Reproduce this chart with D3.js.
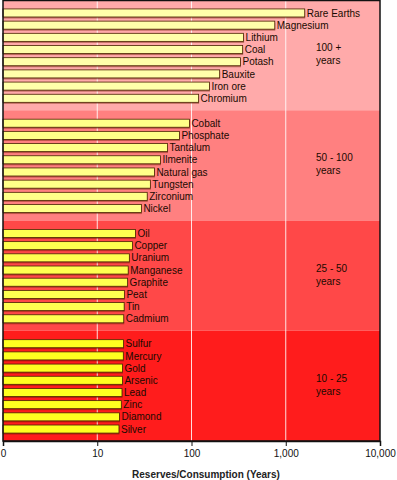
<!DOCTYPE html>
<html>
<head>
<meta charset="utf-8">
<script src="https://cdn.jsdelivr.net/npm/d3@7"></script>
<style>
  body { margin: 0; background: #fff; }
  text { font-family: "Liberation Sans", Arial, sans-serif; }
</style>
</head>
<body>
<div class="chart"></div>
<script>
// groups, top to bottom
const groups = ["100 +", "50 - 100", "25 - 50", "10 - 25"]

const names100 = ["Rare Earths", "Magnesium", "Lithium", "Coal", "Potash", "Bauxite", "Iron ore", "Chromium"]
const years100 = [1590, 765, 357, 349, 331, 199, 155, 119]

const names50 = ["Cobalt", "Phosphate", "Tantalum", "Ilmenite", "Natural gas", "Tungsten", "Zirconium", "Nickel"]
const years50 = [95, 74.5, 55.6, 46.8, 40.4, 36.6, 33.9, 29.4]

const names25 = ["Oil", "Copper", "Uranium", "Manganese", "Graphite", "Peat", "Tin", "Cadmium"]
const years25 = [25.4, 23.6, 21.9, 21.3, 21, 19.4, 19.3, 19.1]

const names10 = ["Sulfur", "Mercury", "Gold", "Arsenic", "Lead", "Zinc", "Diamond", "Silver"]
const years10 = [19, 18.9, 18.5, 18.5, 18.3, 18, 17.2, 17]

const tickValues = [1, 10, 100, 1000, 10000]
const tickLabels = ["0", "10", "100", "1,000", "10,000"]

const bandColors = ["#ffaaaa", "#ff8080", "#ff4848", "#ff1c1c"]
const barColors = ["#ffffaa", "#ffff88", "#ffff50", "#ffff20"]

const allNames = [names100, names50, names25, names10]
const allYears = [years100, years50, years25, years10]

const width = 397
const height = 480
const plotLeft = 3, plotRight = 380, plotTop = 0, plotBottom = 441

const svg = d3.select(".chart")
	.append("svg")
	.attr("width", width)
	.attr("height", height)

const xScale = d3.scaleLog()
	.domain([1, 10000])
	.range([plotLeft, plotRight])

const groupScale = d3.scaleBand()
	.domain(groups)
	.range([plotTop, plotBottom])

// group backgrounds
svg.selectAll("rect.band")
	.data(groups)
	.enter()
	.append("rect")
	.attr("class", "band")
	.attr("x", plotLeft)
	.attr("y", function(d){return groupScale(d)})
	.attr("width", plotRight - plotLeft)
	.attr("height", groupScale.bandwidth())
	.attr("fill", function(d, i){return bandColors[i]})

// white grid lines
svg.selectAll("line.grid")
	.data([10, 100, 1000])
	.enter()
	.append("line")
	.attr("x1", function(d){return xScale(d)})
	.attr("x2", function(d){return xScale(d)})
	.attr("y1", plotTop)
	.attr("y2", plotBottom)
	.attr("stroke", "#fff")
	.attr("stroke-opacity", 0.85)
	.attr("stroke-width", 1)

groups.forEach(function(grp, gi){
	const data = allNames[gi].map(function(n, i){return {name: n, years: allYears[gi][i]}})
	const y0 = groupScale(grp)
	const yScale = d3.scaleBand()
		.domain(allNames[gi])
		.range([y0 + 6.5, y0 + groupScale.bandwidth() - 5.5])
		.paddingInner(0.34)
		.paddingOuter(0.2)

	const g = svg.append("g")

	// shadow under bars
	g.selectAll("rect.shadow")
		.data(data)
		.enter()
		.append("rect")
		.attr("class", "shadow")
		.attr("x", plotLeft)
		.attr("y", function(d){return yScale(d.name) + 1.5})
		.attr("width", function(d){return xScale(d.years) - plotLeft + 0.5})
		.attr("height", yScale.bandwidth())
		.attr("fill", "#6a1a00")
		.attr("opacity", 0.45)

	g.selectAll("rect.bar")
		.data(data)
		.enter()
		.append("rect")
		.attr("class", "bar")
		.attr("x", plotLeft)
		.attr("y", function(d){return yScale(d.name)})
		.attr("width", function(d){return xScale(d.years) - plotLeft})
		.attr("height", yScale.bandwidth())
		.attr("fill", barColors[gi])
		.attr("stroke", "#4a2200")
		.attr("stroke-width", 0.8)

	g.selectAll("text.lbl")
		.data(data)
		.enter()
		.append("text")
		.attr("class", "lbl")
		.attr("x", function(d){return xScale(d.years) + 2})
		.attr("y", function(d){return yScale(d.name) + yScale.bandwidth() / 2})
		.attr("dy", "0.36em")
		.attr("font-size", "10px")
		.attr("fill", "#1a0a00")
		.text(function(d){return d.name})

	// group label
	g.append("text")
		.attr("x", 316)
		.attr("y", y0 + 51)
		.attr("font-size", "10px")
		.attr("fill", "#1a0a00")
		.text(grp)
	g.append("text")
		.attr("x", 316)
		.attr("y", y0 + 64)
		.attr("font-size", "10px")
		.attr("fill", "#1a0a00")
		.text("years")
})

// plot frame
svg.append("rect")
	.attr("x", plotLeft)
	.attr("y", plotTop + 0.5)
	.attr("width", plotRight - plotLeft)
	.attr("height", plotBottom - plotTop - 0.5)
	.attr("fill", "none")
	.attr("stroke", "#111")
	.attr("stroke-width", 1.5)

const xAxisCall = d3.axisBottom(xScale)
	.tickValues(tickValues)
	.tickFormat(function(d, i){return tickLabels[i]})
	.tickSize(5)
	.tickPadding(4)

const ax = svg.append("g")
	.attr("class", "x axis")
	.attr("transform", "translate(0, " + plotBottom + ")")
	.call(xAxisCall)
ax.select(".domain").attr("stroke", "#111").attr("stroke-width", 1.5)
ax.selectAll(".tick line").attr("stroke", "#111")
ax.selectAll("text")
	.attr("font-family", "Liberation Sans, Arial, sans-serif")
	.attr("font-size", "10px")
	.attr("fill", "#111")

// X Label
svg.append("text")
	.attr("x", 206)
	.attr("y", 478)
	.attr("font-size", "10px")
	.attr("font-weight", "bold")
	.attr("text-anchor", "middle")
	.attr("fill", "#222")
	.text("Reserves/Consumption (Years)")
</script>
</body>
</html>
